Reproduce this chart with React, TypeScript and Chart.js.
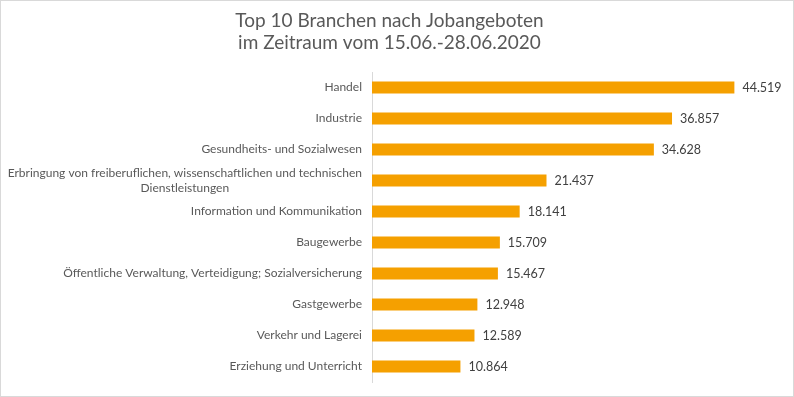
import React, { useEffect, useRef } from "react";
import { Chart, registerables } from "chart.js";

Chart.register(...registerables);

const titleLines = ["Top 10 Branchen nach Jobangeboten", "im Zeitraum vom 15.06.-28.06.2020"];

const categories: string[][] = [
  ["Handel"],
  ["Industrie"],
  ["Gesundheits- und Sozialwesen"],
  ["Erbringung von freiberuflichen, wissenschaftlichen und technischen", "Dienstleistungen"],
  ["Information und Kommunikation"],
  ["Baugewerbe"],
  ["Öffentliche Verwaltung, Verteidigung; Sozialversicherung"],
  ["Gastgewerbe"],
  ["Verkehr und Lagerei"],
  ["Erziehung und Unterricht"],
];

const values: number[] = [44519, 36857, 34628, 21437, 18141, 15709, 15467, 12948, 12589, 10864];

const FONT = "Lato, 'Open Sans', sans-serif";

function fmt(v: number): string {
  const s = String(Math.round(v));
  return s.replace(/\B(?=(\d{3})+(?!\d))/g, ".");
}

export default function App() {
  const ref = useRef<HTMLCanvasElement | null>(null);

  useEffect(() => {
    document.body.style.margin = "0";
    const canvas = ref.current;
    if (!canvas) return;

    const borderPlugin = {
      id: "outerBorder",
      afterDraw(chart: any) {
        const ctx = chart.ctx;
        ctx.save();
        ctx.strokeStyle = "#d9d9d9";
        ctx.lineWidth = 1;
        ctx.strokeRect(0.5, 0.5, chart.width - 1, chart.height - 1);
        ctx.restore();
      },
    };

    const labelPlugin = {
      id: "labels",
      afterDatasetsDraw(chart: any) {
        const ctx = chart.ctx;
        const meta = chart.getDatasetMeta(0);
        const yScale = chart.scales.y;
        const left = chart.chartArea.left;
        ctx.save();
        // data labels
        ctx.font = `12.5px ${FONT}`;
        ctx.fillStyle = "#404040";
        ctx.textAlign = "left";
        ctx.textBaseline = "middle";
        meta.data.forEach((bar: any, i: number) => {
          ctx.fillText(fmt(values[i]), bar.x + 8, bar.y);
        });
        // category labels
        ctx.font = `12px ${FONT}`;
        ctx.fillStyle = "#595959";
        const rightX = left - 10;
        const lh = 14.5;
        categories.forEach((lines, i) => {
          const cy = yScale.getPixelForValue(i);
          if (lines.length === 1) {
            ctx.textAlign = "right";
            ctx.fillText(lines[0], rightX, cy);
          } else {
            const widest = Math.max(...lines.map((l) => ctx.measureText(l).width));
            const cx = rightX - widest / 2;
            ctx.textAlign = "center";
            const start = cy - ((lines.length - 1) * lh) / 2;
            lines.forEach((l, j) => ctx.fillText(l, cx, start + j * lh));
          }
        });
        ctx.restore();
      },
    };

    const chart = new Chart(canvas, {
      type: "bar",
      data: {
        labels: categories.map((c) => c.join(" ")),
        datasets: [
          {
            data: values,
            backgroundColor: "#F5A000",
            borderWidth: 0,
            categoryPercentage: 1,
            barPercentage: 0.39,
          },
        ],
      },
      options: {
        indexAxis: "y",
        responsive: false,
        animation: false,
        layout: { padding: { left: 0, right: 15, top: 0, bottom: 15 } },
        plugins: {
          legend: { display: false },
          tooltip: { enabled: false },
          title: {
            display: true,
            text: titleLines,
            color: "#595959",
            font: { family: FONT, size: 19, weight: "normal", lineHeight: 1.16 },
            padding: { top: 10, bottom: 18 },
          },
        },
        scales: {
          x: {
            display: false,
            min: 0,
            max: 50000,
          },
          y: {
            display: true,
            grid: { display: false },
            ticks: { display: false },
            border: { display: true, color: "#d9d9d9", width: 1 },
            afterFit: (scale: any) => {
              scale.width = 372;
            },
          },
        },
      },
      plugins: [labelPlugin, borderPlugin],
    });

    return () => chart.destroy();
  }, []);

  return (
    <div style={{ width: 794, height: 397, position: "relative", background: "#fff" }}>
      <canvas ref={ref} width={794} height={397} />
    </div>
  );
}
